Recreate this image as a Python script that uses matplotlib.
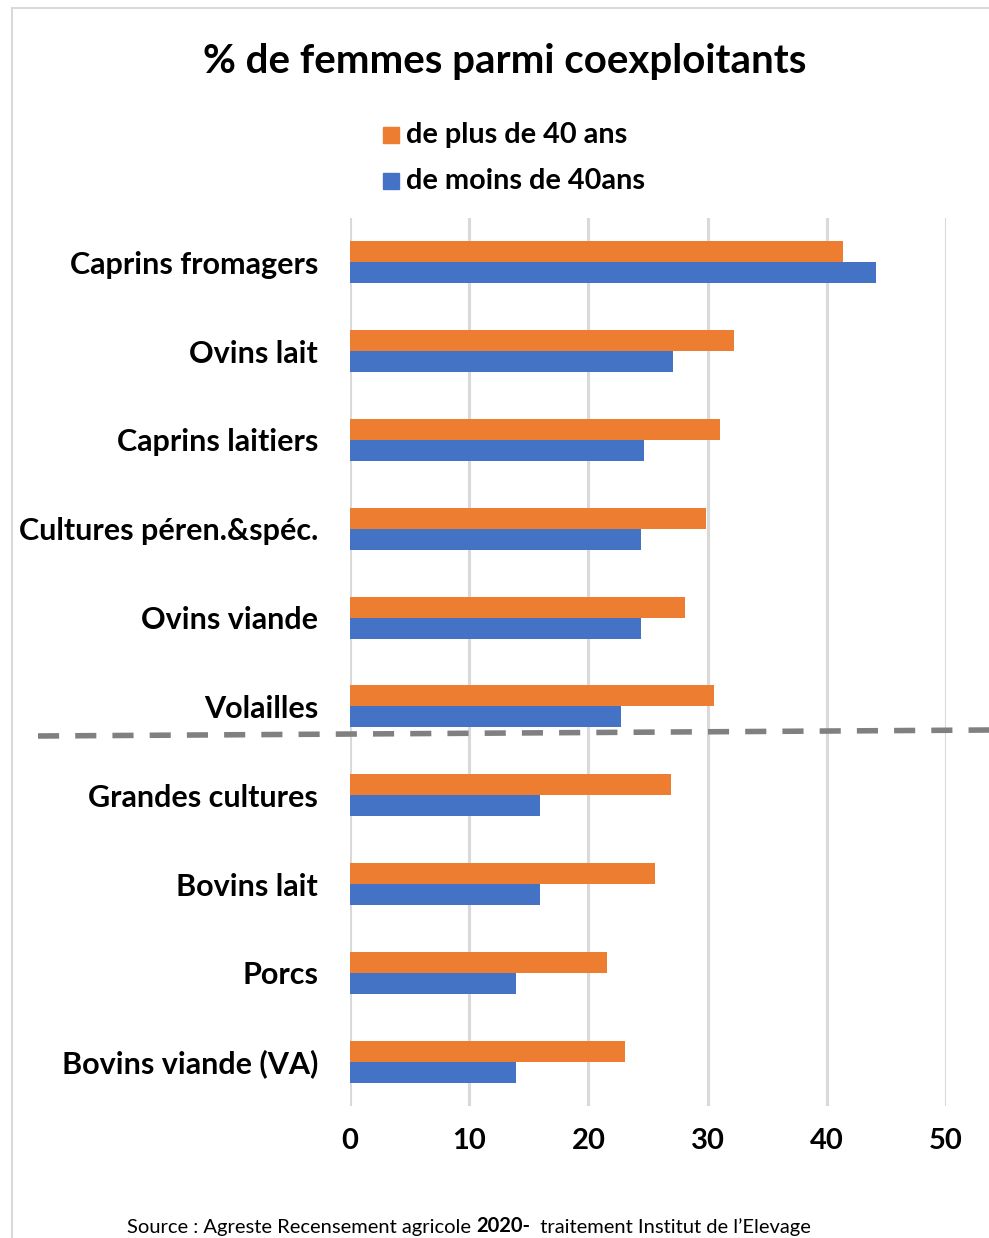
import matplotlib
matplotlib.use("Agg")
import matplotlib.pyplot as plt
from matplotlib.lines import Line2D
import numpy as np

categories = ["Caprins fromagers", "Ovins lait", "Caprins laitiers", "Cultures péren.&spéc.",
              "Ovins viande", "Volailles", "Grandes cultures", "Bovins lait", "Porcs",
              "Bovins viande (VA)"]
plus_40 = [41.4, 32.2, 31.0, 29.9, 28.1, 30.5, 26.9, 25.6, 21.6, 23.1]
moins_40 = [44.1, 27.1, 24.7, 24.4, 24.4, 22.7, 15.9, 15.9, 13.9, 13.9]
series_labels = ["de plus de 40 ans", "de moins de 40ans"]
xticks = [0, 10, 20, 30, 40, 50]
title = "% de femmes parmi coexploitants"

ORANGE = "#ED7D31"
BLUE = "#4472C4"
GRID = "#D9D9D9"
FONT = "Lato"

W, H = 989, 1238
fig = plt.figure(figsize=(W / 100, H / 100), dpi=100)

def fx(px): return px / W
def fy(py): return 1 - py / H

ax = fig.add_axes([fx(350), fy(1106), fx(946) - fx(350), fy(218) - fy(1106)])
y = np.arange(len(categories))
bh = 0.236
ax.barh(y - bh / 2, plus_40, height=bh, color=ORANGE, zorder=3)
ax.barh(y + bh / 2, moins_40, height=bh, color=BLUE, zorder=3)
ax.set_xlim(0, 50)
ax.set_ylim(len(categories) - 0.5, -0.5)
ax.set_xticks(xticks)
ax.set_xticklabels([str(t) for t in xticks], fontsize=21, fontweight="bold", family=FONT)
ax.set_yticks(y)
ax.set_yticklabels(categories, fontsize=22, fontweight="bold", family=FONT)
ax.tick_params(axis="both", length=0)
ax.tick_params(axis="x", pad=16)
ax.tick_params(axis="y", pad=23)
for s in ax.spines.values():
    s.set_visible(False)
ax.grid(axis="x", color=GRID, linewidth=2.2, zorder=0)
ax.set_axisbelow(True)

# title
fig.text(fx(505), fy(61), title, ha="center", va="center", fontsize=29, fontweight="bold", family=FONT)

# legend
for i, (lab, col) in enumerate(zip(series_labels, [ORANGE, BLUE])):
    yy = 135 + i * 46
    fig.patches.append(plt.Rectangle((fx(383), fy(yy + 8)), fx(16), fy(0) - fy(16), color=col,
                                     transform=fig.transFigure, figure=fig))
    fig.text(fx(406), fy(yy), lab, ha="left", va="center", fontsize=20.8, fontweight="bold", family=FONT)

# dashed separator
fig.add_artist(Line2D([fx(38), fx(989)], [fy(736), fy(730)], color="#808080", linewidth=4,
                      dashes=(3.8, 2.9), solid_capstyle="butt", dash_capstyle="butt",
                      transform=fig.transFigure))

# frame
fig.add_artist(Line2D([fx(12), fx(989)], [fy(8), fy(8)], color=GRID, linewidth=1.5, transform=fig.transFigure))
fig.add_artist(Line2D([fx(12), fx(12)], [fy(8), fy(1238)], color=GRID, linewidth=1.5, transform=fig.transFigure))

# source
t1 = fig.text(fx(127), fy(1227), "Source : Agreste Recensement agricole ", ha="left", va="center",
              fontsize=14.5, family=FONT)
t2 = fig.text(0, 0, "2020-", fontsize=14.5, fontweight="bold", family=FONT)
t3 = fig.text(0, 0, "  traitement Institut de l\u2019Elevage", fontsize=14.5, family=FONT)
fig.canvas.draw()
r = fig.canvas.get_renderer()
bb1 = t1.get_window_extent(r)
t2.set_position((bb1.x1 / W, bb1.y0 / H))
t2.set_va("bottom")
fig.canvas.draw()
bb2 = t2.get_window_extent(r)
t3.set_position((bb2.x1 / W, bb1.y0 / H))
t3.set_va("bottom")

fig.savefig("out.png", dpi=100)
